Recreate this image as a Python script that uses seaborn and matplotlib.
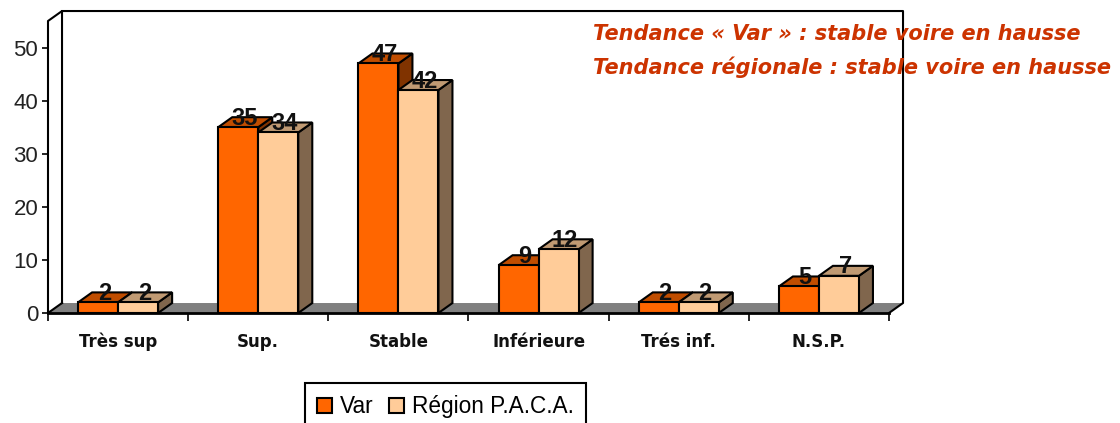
import matplotlib
matplotlib.use("Agg")
import matplotlib.pyplot as plt
from matplotlib.patches import Polygon
import pandas as pd
import seaborn as sns

# values
categories = ["Très sup", "Sup.", "Stable", "Inférieure", "Trés inf.", "N.S.P."]
var_values = [2, 35, 47, 9, 2, 5]
paca_values = [2, 34, 42, 12, 2, 7]
series_names = ["Var", "Région P.A.C.A."]
y_ticks = [0, 10, 20, 30, 40, 50]
notes = ["Tendance « Var » : stable voire en hausse",
         "Tendance régionale : stable voire en hausse"]

df = pd.DataFrame({
    "cat": categories * 2,
    "serie": [series_names[0]] * 6 + [series_names[1]] * 6,
    "val": var_values + paca_values,
})

front = {series_names[0]: "#FF6600", series_names[1]: "#FFCC99"}
top_col = ["#C04D00", "#C09A73"]
side_col = ["#803300", "#80664D"]

W, H = 1120, 423
plt.rcParams["font.family"] = ["Liberation Sans", "DejaVu Sans"]
fig = plt.figure(figsize=(W / 100, H / 100), dpi=100)
ax = fig.add_axes([48 / W, 1 - 313 / H, 841 / W, 292 / H])

lw = 1.5
sns.barplot(data=df, x="cat", y="val", hue="serie", palette=front, width=0.571, gap=0,
            edgecolor="black", linewidth=lw, saturation=1, ax=ax, zorder=5)
ax.set_xlim(-0.5, 5.5)
ax.set_ylim(0, 55)
ax.set_xlabel("")
ax.set_ylabel("")

# 3d depth, in data units (14 px right, 10 px up)
dx, dy = 0.1, 1.88
x0, x1 = -0.5, 5.5
ymax = 55

# floor, then the wall outlines (no line along the back of the floor)
ax.add_patch(Polygon([(x0, 0), (x0 + dx, dy), (x1 + dx, dy), (x1, 0)],
                     fc="#808080", ec="none", clip_on=False, zorder=1))
ax.plot([x0 + dx, x0, x0, x0 + dx, x0 + dx], [dy, 0, ymax, ymax + dy, dy],
        color="black", lw=lw, clip_on=False, zorder=2)
ax.plot([x0 + dx, x1 + dx, x1 + dx, x1], [ymax + dy, ymax + dy, dy, 0],
        color="black", lw=lw, clip_on=False, zorder=2)

# side and top faces, taken from the bars seaborn drew
bars = [b for c in ax.containers for b in c]
for i, b in enumerate(bars):
    s = i // 6
    l, r, h = b.get_x(), b.get_x() + b.get_width(), b.get_height()
    ax.add_patch(Polygon([(r, 0), (r + dx, dy), (r + dx, h + dy), (r, h)],
                         fc=side_col[s], ec="black", lw=lw, clip_on=False, zorder=3 + s))
    ax.add_patch(Polygon([(l, h), (l + dx, h + dy), (r + dx, h + dy), (r, h)],
                         fc=top_col[s], ec="black", lw=lw, clip_on=False, zorder=3 + s))
    b.set_zorder(3.5 + s)
    b.set_clip_on(False)
    ax.text(l + b.get_width() / 2 + dx * 0.45, h - 0.5, str(int(h)), ha="center", va="bottom",
            fontsize=17, fontweight="bold", color="#111111", zorder=10)

sns.despine(ax=ax, left=True, bottom=True, top=True, right=True)
ax.plot([x0, x1], [0, 0], color="black", lw=2, clip_on=False, zorder=9)
ax.set_yticks(y_ticks)
ax.set_yticklabels(y_ticks, fontsize=16, color="#222222")
ax.tick_params(axis="y", length=4, width=1.2, pad=3)
ax.set_xticks([x - 0.5 for x in range(7)], minor=False)
ax.set_xticklabels([""] * 7)
ax.tick_params(axis="x", length=6, width=1.2)
for i, c in enumerate(categories):
    ax.annotate(c, (i, 0), xytext=(0, -29), textcoords="offset pixels", ha="center", va="center",
                fontsize=12, fontweight="bold", color="#111111", annotation_clip=False,
                family="DejaVu Sans")

ys = [34, 67]
for t, y in zip(notes, ys):
    fig.text(593 / W, 1 - y / H, t, color="#CC3300", fontsize=15, fontweight="bold",
             style="italic", va="center", ha="left", zorder=20, family="DejaVu Sans")

handles = ax.get_legend().legend_handles
ax.get_legend().remove()
leg = fig.legend(handles, series_names, loc="upper left", bbox_to_anchor=(305 / W, 1 - 383 / H),
                 ncol=2, frameon=True, fancybox=False, edgecolor="black", framealpha=1,
                 fontsize=16.3, handlelength=0.66, handleheight=0.66, handletextpad=0.35,
                 columnspacing=0.66, borderaxespad=0, borderpad=0.55)
leg.get_frame().set_linewidth(1.5)
for h in leg.legend_handles:
    h.set_edgecolor("black")
    h.set_linewidth(1.5)

fig.savefig("out.png", dpi=100)
